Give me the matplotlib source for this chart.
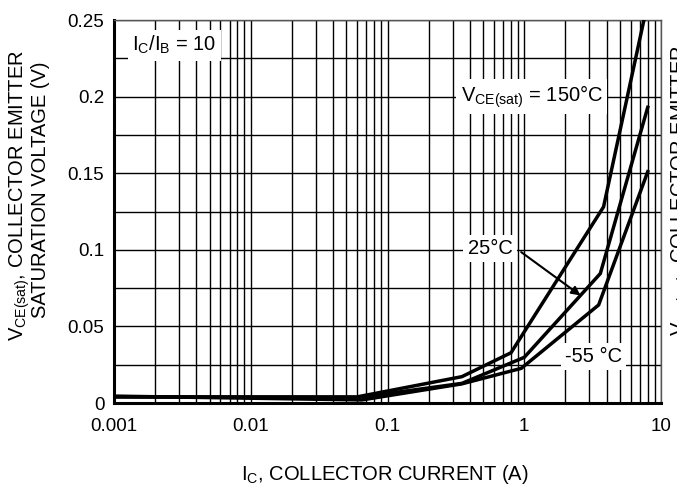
import matplotlib
matplotlib.use("Agg")
import matplotlib.pyplot as plt
from matplotlib.ticker import FixedLocator, LogLocator, NullFormatter

plt.rcParams['font.family'] = ['Liberation Sans', 'DejaVu Sans']
plt.rcParams['mathtext.fontset'] = 'custom'
plt.rcParams['mathtext.rm'] = 'Liberation Sans'
plt.rcParams['mathtext.it'] = 'Liberation Sans'

# Data
ic_150 = [0.001, 0.06, 0.35, 0.8, 3.8, 7.5]
v_150 = [0.004, 0.004, 0.0172, 0.0328, 0.128, 0.25]
ic_25 = [0.001, 0.06, 0.35, 1.0, 3.6, 8.0]
v_25 = [0.004, 0.0035, 0.0128, 0.0298, 0.0845, 0.193]
ic_m55 = [0.001, 0.065, 0.35, 0.95, 3.5, 8.0]
v_m55 = [0.0045, 0.002, 0.0125, 0.0226, 0.064, 0.151]

x_ticks = [0.001, 0.01, 0.1, 1, 10]
x_tick_labels = ["0.001", "0.01", "0.1", "1", "10"]
y_ticks = [0, 0.05, 0.1, 0.15, 0.2, 0.25]
y_tick_labels = ["0", "0.05", "0.1", "0.15", "0.2", "0.25"]

W, H = 677, 484
fig = plt.figure(figsize=(W / 100, H / 100), dpi=100)
ax = fig.add_axes([114 / W, 81 / H, 547 / W, 383 / H])

ax.set_xscale('log')
ax.set_xlim(0.001, 10)
ax.set_ylim(0, 0.25)

ax.xaxis.set_major_locator(FixedLocator(x_ticks))
ax.set_xticklabels(x_tick_labels)
ax.xaxis.set_minor_locator(LogLocator(base=10, subs=range(2, 10)))
ax.xaxis.set_minor_formatter(NullFormatter())
ax.yaxis.set_major_locator(FixedLocator(y_ticks))
ax.set_yticklabels(y_tick_labels)
ax.yaxis.set_minor_locator(FixedLocator([0.025, 0.075, 0.125, 0.175, 0.225]))

ax.grid(True, which='both', color='black', linewidth=1.0)
ax.tick_params(which='both', length=0, labelsize=13.5)
ax.tick_params(axis='x', pad=11)
ax.tick_params(axis='y', pad=7)

for s in ['left', 'bottom']:
    ax.spines[s].set_linewidth(2.2)
for s in ['top', 'right']:
    ax.spines[s].set_linewidth(1.0)
    ax.spines[s].set_color('#555555')

lw = 2.5
ax.plot(ic_150, v_150, color='black', lw=lw, solid_joinstyle='miter', zorder=5)
ax.plot(ic_25, v_25, color='black', lw=lw, solid_joinstyle='miter', zorder=5)
ax.plot(ic_m55, v_m55, color='black', lw=lw, solid_joinstyle='miter', zorder=5)

box = dict(facecolor='white', edgecolor='none', pad=3)
fs_ann = 14.5
ax.text(0.00136, 0.2335, r"I$_\mathrm{C}$/I$_\mathrm{B}$ = 10", fontsize=fs_ann,
        va='center', ha='left', bbox=box, zorder=4)
ax.text(0.343, 0.2, r"V$_\mathrm{CE(sat)}$ = 150°C", fontsize=fs_ann,
        va='center', ha='left', bbox=box, zorder=4)
ax.text(0.385, 0.101, "25°C", fontsize=fs_ann, va='center', ha='left', bbox=box, zorder=4)
ax.text(1.98, 0.0305, "-55 °C", fontsize=fs_ann, va='center', ha='left', bbox=box, zorder=4)
ax.annotate("", xy=(2.58, 0.0702), xytext=(0.95, 0.0985),
            arrowprops=dict(arrowstyle='-|>', color='black', lw=1.5,
                            mutation_scale=13, shrinkA=0, shrinkB=0), zorder=6)

fs_lab = 14.5
fig.text(385 / W, 1 - 474 / H, r"I$_\mathrm{C}$, COLLECTOR CURRENT (A)",
         ha='center', va='center', fontsize=fs_lab)
fig.text(20 / W, 1 - 50 / H, r"V$_\mathrm{CE(sat)}$, COLLECTOR EMITTER",
         ha='center', va='top', rotation=90, fontsize=fs_lab)
fig.text(41 / W, 1 - 62 / H, "SATURATION VOLTAGE (V)",
         ha='center', va='top', rotation=90, fontsize=fs_lab)
fig.text(669 / W, 1 - 45 / H, r"V$_\mathrm{CE(sat)}$, COLLECTOR EMITTER",
         ha='left', va='top', rotation=90, fontsize=fs_lab)

fig.savefig("out.png", dpi=100)
